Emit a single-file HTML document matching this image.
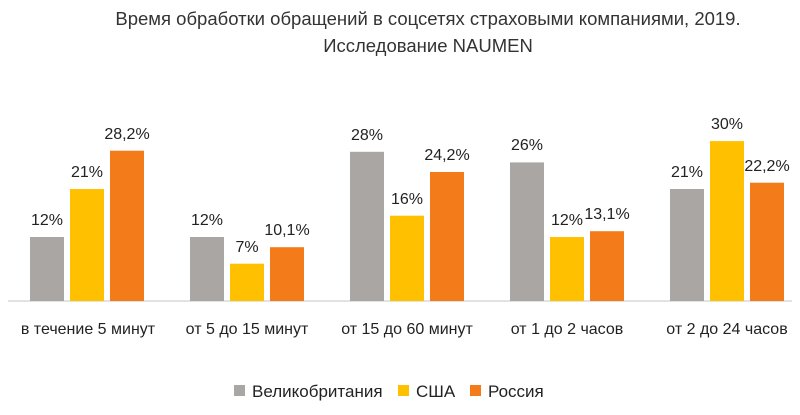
<!DOCTYPE html>
<html><head><meta charset="utf-8"><style>
body{margin:0;background:#fff;width:800px;height:410px;overflow:hidden;font-family:"Liberation Sans",sans-serif;}
</style></head><body>
<svg width="800" height="410" xmlns="http://www.w3.org/2000/svg" font-family="Liberation Sans, sans-serif" fill="#222">
<text x="428" y="25" font-size="18.5" text-anchor="middle" fill="#333">Время обработки обращений в соцсетях страховыми компаниями, 2019.</text>
<text x="428" y="52" font-size="18.5" text-anchor="middle" fill="#333">Исследование NAUMEN</text>
<line x1="8" y1="301" x2="792" y2="301" stroke="#d9d9d9" stroke-width="1.5"/>
<g>
<rect x="30" y="237" width="34" height="64" fill="#aaa6a4"/>
<rect x="70" y="189" width="34" height="112" fill="#ffc000"/>
<rect x="110" y="150.7" width="34" height="150.3" fill="#f47b1a"/>
<rect x="190" y="237" width="34" height="64" fill="#aaa6a4"/>
<rect x="230" y="263.7" width="34" height="37.3" fill="#ffc000"/>
<rect x="270" y="247.2" width="34" height="53.8" fill="#f47b1a"/>
<rect x="350" y="151.8" width="34" height="149.2" fill="#aaa6a4"/>
<rect x="390" y="215.7" width="34" height="85.3" fill="#ffc000"/>
<rect x="430" y="172" width="34" height="129" fill="#f47b1a"/>
<rect x="510" y="162.4" width="34" height="138.6" fill="#aaa6a4"/>
<rect x="550" y="237" width="34" height="64" fill="#ffc000"/>
<rect x="590" y="231.2" width="34" height="69.8" fill="#f47b1a"/>
<rect x="670" y="189" width="34" height="112" fill="#aaa6a4"/>
<rect x="710" y="141.1" width="34" height="159.9" fill="#ffc000"/>
<rect x="750" y="182.7" width="34" height="118.3" fill="#f47b1a"/>
</g>
<g font-size="16" text-anchor="middle">
<text x="47" y="225">12%</text>
<text x="87" y="177">21%</text>
<text x="127" y="139">28,2%</text>
<text x="207" y="225">12%</text>
<text x="247" y="252">7%</text>
<text x="287" y="235">10,1%</text>
<text x="367" y="140">28%</text>
<text x="407" y="204">16%</text>
<text x="447" y="160">24,2%</text>
<text x="527" y="150">26%</text>
<text x="567" y="225">12%</text>
<text x="607" y="219">13,1%</text>
<text x="687" y="177">21%</text>
<text x="727" y="129">30%</text>
<text x="767" y="171">22,2%</text>
</g>
<g font-size="16" text-anchor="middle">
<text x="88" y="334">в течение 5 минут</text>
<text x="247" y="334">от 5 до 15 минут</text>
<text x="407" y="334">от 15 до 60 минут</text>
<text x="567" y="334">от 1 до 2 часов</text>
<text x="727" y="334">от 2 до 24 часов</text>
</g>
<rect x="234" y="385" width="11" height="11" fill="#aaa6a4"/>
<text x="252" y="397" font-size="17">Великобритания</text>
<rect x="398" y="385" width="11" height="11" fill="#ffc000"/>
<text x="416" y="397" font-size="17">США</text>
<rect x="470" y="385" width="11" height="11" fill="#f47b1a"/>
<text x="488" y="397" font-size="17">Россия</text>
</svg>
</body></html>
